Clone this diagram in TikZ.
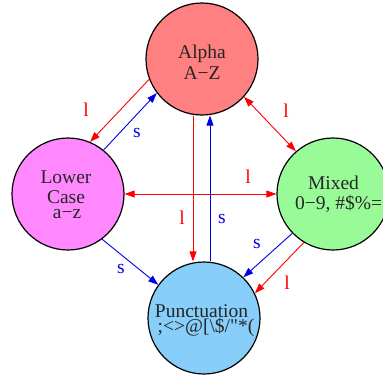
\documentclass[tikz,border=0pt]{standalone}
\usepackage{fontspec}
\setmainfont{Liberation Serif}
\newfontfamily\plainserif[Ligatures=TeXOff]{Liberation Serif}
\usetikzlibrary{arrows.meta}
\definecolor{alphacol}{RGB}{255,128,128}
\definecolor{lowercol}{RGB}{255,136,255}
\definecolor{mixedcol}{RGB}{152,251,152}
\definecolor{punctcol}{RGB}{135,206,250}
\definecolor{lred}{RGB}{255,0,0}
\definecolor{lblue}{RGB}{0,0,230}
\begin{document}
\begin{tikzpicture}[x=1pt,y=-1pt,
  state/.style={circle,draw=black,line width=1.2pt,minimum size=112pt,inner sep=0pt},
  txt/.style={font=\fontsize{19.5}{21}\selectfont,text=black!85,anchor=base,inner sep=0pt},
  lab/.style={font=\fontsize{19.5}{21}\selectfont,inner sep=0pt},
  tip/.style={-{Triangle[length=10pt,width=7pt]}},
  bitip/.style={{Triangle[length=10pt,width=7pt]}-{Triangle[length=10pt,width=7pt]}},
  redE/.style={draw=lred,line width=0.9pt},
  blueE/.style={draw=lblue,line width=0.9pt}
]
\useasboundingbox (0,0) rectangle (383,375);
% states
\node[state,fill=alphacol] (alpha) at (202,59) {};
\node[state,fill=lowercol] (lower) at (68,194) {};
\node[state,fill=mixedcol] (mixed) at (333,194) {};
\node[state,fill=punctcol] (punct) at (204,318) {};
% state texts
\node[txt] (alphaA) at (202,58) {Alpha};
\node[txt] (alphaB) at (202,79) {A−Z};
\node[txt] (lowerA) at (66,183) {Lower};
\node[txt] (lowerB) at (66,203) {Case};
\node[txt] (lowerC) at (67,218) {a−z};
\node[txt] (mixedA) at (333.5,189) {Mixed};
\node[txt,anchor=base west] (mixedB) at (295,209) {0−9, \#\$\%=};
\node[txt] (punctA) at (201.5,317) {Punctuation};
\node[txt] (punctB) at (206,332) {\plainserif ;<>@[\textbackslash\$/"*(};
% edges
\draw[redE,tip] (alpha.201) -- (lower.67);
\draw[blueE,tip] (lower.51) -- (alpha.217);
\draw[redE,bitip] (alpha.318) -- (mixed.131);
\draw[redE,bitip] (lower.east) -- (mixed.west);
\draw[redE,tip] ([xshift=-9pt]alpha.south) -- ([xshift=-11pt]punct.north);
\draw[blueE,tip] ([xshift=6pt]punct.north) -- ([xshift=8pt]alpha.south);
\draw[blueE,tip] (lower.307) -- (punct.144);
\draw[blueE,tip] (mixed.224) -- (punct.46);
\draw[redE,tip] (mixed.239) -- (punct.26);
% edge labels
\node[lab,text=lred] (l1) at (86,110) {l};
\node[lab,text=lblue] (s1) at (137,133) {s};
\node[lab,text=lred] (l2) at (286,111) {l};
\node[lab,text=lred] (l3) at (248,177) {l};
\node[lab,text=lred] (l4) at (182,218) {l};
\node[lab,text=lblue] (s2) at (222,219) {s};
\node[lab,text=lblue] (s3) at (121,269) {s};
\node[lab,text=lblue] (s4) at (257,244) {s};
\node[lab,text=lred] (l5) at (287,283) {l};
\end{tikzpicture}
\end{document}
